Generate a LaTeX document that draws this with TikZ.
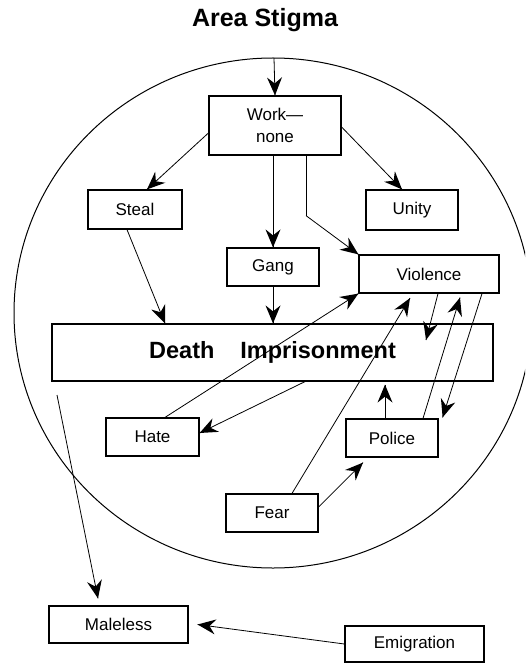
\documentclass[tikz,border=0pt]{standalone}
\usepackage{fontspec}
\setmainfont{Liberation Sans}
\usetikzlibrary{calc}
\tikzset{
  box/.style={draw,line width=1.2pt,minimum width=#1,inner sep=0pt,font=\fontsize{17}{22}\selectfont,align=center},
  ln/.style={line width=0.8pt},
  tipfill/.style={fill=black}
}
% connector from #1 to #2 with a large concave arrow head at #2
\newcommand\conn[2]{%
  \path #1 coordinate (cs) #2 coordinate (ce);
  \draw[ln] (cs) -- (ce);
  \path ($(ce)!18pt!(cs)$) coordinate (cb) ($(ce)!12pt!(cs)$) coordinate (ci);
  \fill[tipfill] (ce) -- ($(cb)!7.5pt!90:(ce)$) -- (ci) -- ($(cb)!7.5pt!-90:(ce)$) -- cycle;
}
\begin{document}
\begin{tikzpicture}[x=1pt,y=-1pt]
\useasboundingbox (0,0) rectangle (525,663);
\clip (0,0) rectangle (525,663);
\node[font=\bfseries\fontsize{25}{30}\selectfont] (title) at (265,20) {Area Stigma};
\draw[line width=1pt] (273,313) ellipse [x radius=259, y radius=255];
\coordinate (top) at (274,58);
\coordinate (free) at (57,395);
\node[box=132pt,minimum height=59pt] (work) at (275,125.5) {Work—\\none};
\node[box=94pt,minimum height=39pt] (steal) at (135,209.5) {Steal};
\node[box=92pt,minimum height=40pt] (unity) at (412,210) {Unity};
\node[box=92pt,minimum height=38pt] (gang) at (273,267) {Gang};
\node[box=140pt,minimum height=38pt] (violence) at (429,274) {Violence};
\node[box=441pt,minimum height=57pt,font=\bfseries\fontsize{23.5}{28}\selectfont] (death) at (272.5,352.5) {Death\hspace{26pt}Imprisonment};
\node[box=93pt,minimum height=38pt] (hate) at (152.5,437) {Hate};
\node[box=92pt,minimum height=38pt] (police) at (392,438) {Police};
\node[box=92pt,minimum height=38pt] (fear) at (272,513) {Fear};
\node[box=139pt,minimum height=37pt] (maleless) at (118.5,624.5) {Maleless};
\node[box=139pt,minimum height=36pt] (emig) at (414.5,644) {Emigration};
\coordinate (bend) at ([xshift=31pt,yshift=-60pt]work.south);
% connectors
\conn{(top)}{(work.north)}
\conn{([yshift=-7.5pt]work.west)}{([xshift=12pt]steal.north)}
\conn{([yshift=-1.5pt]work.east)}{([xshift=-10pt]unity.north)}
\conn{([xshift=-2pt]work.south)}{([xshift=0pt]gang.north)}
\draw[ln] ([xshift=31pt]work.south) -- (bend);
\conn{(bend)}{(violence.north west)}
\conn{([xshift=-8pt]steal.south)}{([xshift=-107.5pt]death.north)}
\conn{(gang.south)}{(gang.south |- death.north)}
\conn{([xshift=12.5pt]hate.north)}{(violence.south west)}
\conn{([xshift=32.5pt]death.south)}{([yshift=4pt]hate.east)}
\conn{([xshift=20pt]fear.north)}{([xshift=-19pt,yshift=-4.5pt]violence.south)}
\conn{([yshift=6pt]fear.east)}{([xshift=-29pt,yshift=-5pt]police.south)}
\conn{([xshift=-7pt]police.north)}{([xshift=-7pt,yshift=-3pt]police.north |- death.south)}
\conn{([xshift=9pt]violence.south)}{([xshift=153.5pt,yshift=12.5pt]death.center)}
\conn{([xshift=31pt]police.north)}{([xshift=31pt,yshift=-4pt]violence.south)}
\conn{([xshift=53pt]violence.south)}{([xshift=4pt,yshift=1pt]police.north east)}
\conn{(free)}{([xshift=-20.5pt,yshift=7pt]maleless.north)}
\conn{(emig.west)}{([xshift=9pt]maleless.east)}
\end{tikzpicture}
\end{document}
